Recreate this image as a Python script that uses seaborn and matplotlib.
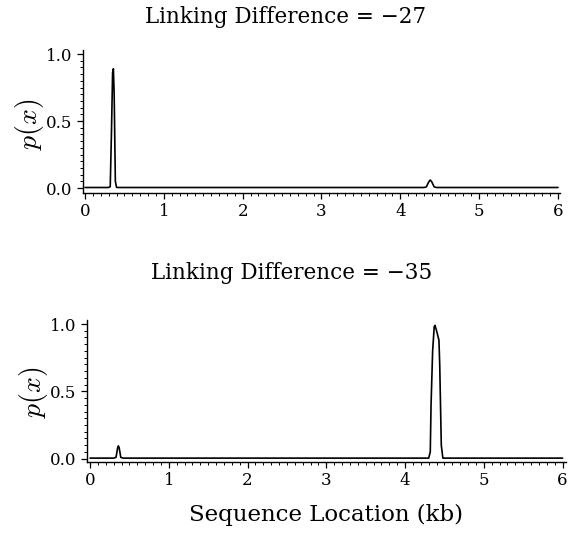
import matplotlib
matplotlib.use("Agg")
import matplotlib.pyplot as plt
import seaborn as sns
from matplotlib.ticker import MultipleLocator

# data (sequence location in kb, probability)
top_x = [0.0, 0.30, 0.32, 0.335, 0.35, 0.36, 0.37, 0.385, 0.40, 0.42,
         4.30, 4.33, 4.36, 4.38, 4.40, 4.43, 4.46, 6.0]
top_p = [0.004, 0.004, 0.01, 0.40, 0.86, 0.89, 0.70, 0.05, 0.005, 0.004,
         0.004, 0.008, 0.045, 0.06, 0.045, 0.008, 0.004, 0.004]

bottom_x = [0.0, 0.30, 0.33, 0.35, 0.36, 0.37, 0.39, 0.42,
            4.30, 4.32, 4.33, 4.35, 4.37, 4.38, 4.40, 4.43, 4.44, 4.46, 4.48, 6.0]
bottom_p = [0.004, 0.004, 0.01, 0.08, 0.095, 0.08, 0.01, 0.004,
            0.004, 0.05, 0.40, 0.80, 0.98, 0.99, 0.95, 0.88, 0.70, 0.10, 0.004, 0.004]

titles = ["Linking Difference = \u221227", "Linking Difference = \u221235"]
x_ticks = [0, 1, 2, 3, 4, 5, 6]
y_ticks = [0.0, 0.5, 1.0]

sns.set_style("ticks")
plt.rcParams["font.family"] = ["DejaVu Serif"]
plt.rcParams["mathtext.fontset"] = "cm"
plt.rcParams["text.color"] = "black"

fig = plt.figure(figsize=(5.68, 5.34), dpi=100)
ax1 = fig.add_axes([0.1455, 0.6386, 0.841, 0.2678])
ax2 = fig.add_axes([0.153, 0.1348, 0.843, 0.266])

panels = [(ax1, top_x, top_p, (-0.03, 6.03), (-0.037, 1.03)),
          (ax2, bottom_x, bottom_p, (-0.04, 6.04), (-0.025, 1.03))]

for ax, xs, ps, xl, yl in panels:
    sns.lineplot(x=xs, y=ps, ax=ax, color="black", linewidth=1.2)
    ax.set_xlim(xl)
    ax.set_ylim(yl)
    ax.set_xticks(x_ticks)
    ax.set_yticks(y_ticks)
    ax.set_yticklabels(["0.0", "0.5", "1.0"])
    ax.xaxis.set_minor_locator(MultipleLocator(0.1))
    ax.yaxis.set_minor_locator(MultipleLocator(0.05))
    ax.tick_params(which="major", direction="out", length=4, width=0.9, labelsize=12,
                   colors="black", labelcolor="black")
    ax.tick_params(which="minor", direction="out", length=2, width=0.7, colors="black")
    for side in ["top", "right"]:
        ax.spines[side].set_visible(False)
    for side in ["left", "bottom"]:
        ax.spines[side].set_linewidth(1.0)
        ax.spines[side].set_color("black")
    ax.set_xlabel("")
    ax.set_ylabel("")

# titles and labels
fig.text(286 / 568, 1 - 17 / 534, titles[0], ha="center", va="center", fontsize=15.5)
fig.text(292 / 568, 1 - 273 / 534, titles[1], ha="center", va="center", fontsize=15.5)
fig.text(30 / 568, 1 - 124 / 534, "$p(x)$", rotation=90, ha="center", va="center", fontsize=20)
fig.text(33 / 568, 1 - 392 / 534, "$p(x)$", rotation=90, ha="center", va="center", fontsize=20)
fig.text(326 / 568, 1 - 515 / 534, "Sequence Location (kb)", ha="center", va="center", fontsize=16.5)

fig.savefig("out.png", dpi=100)
